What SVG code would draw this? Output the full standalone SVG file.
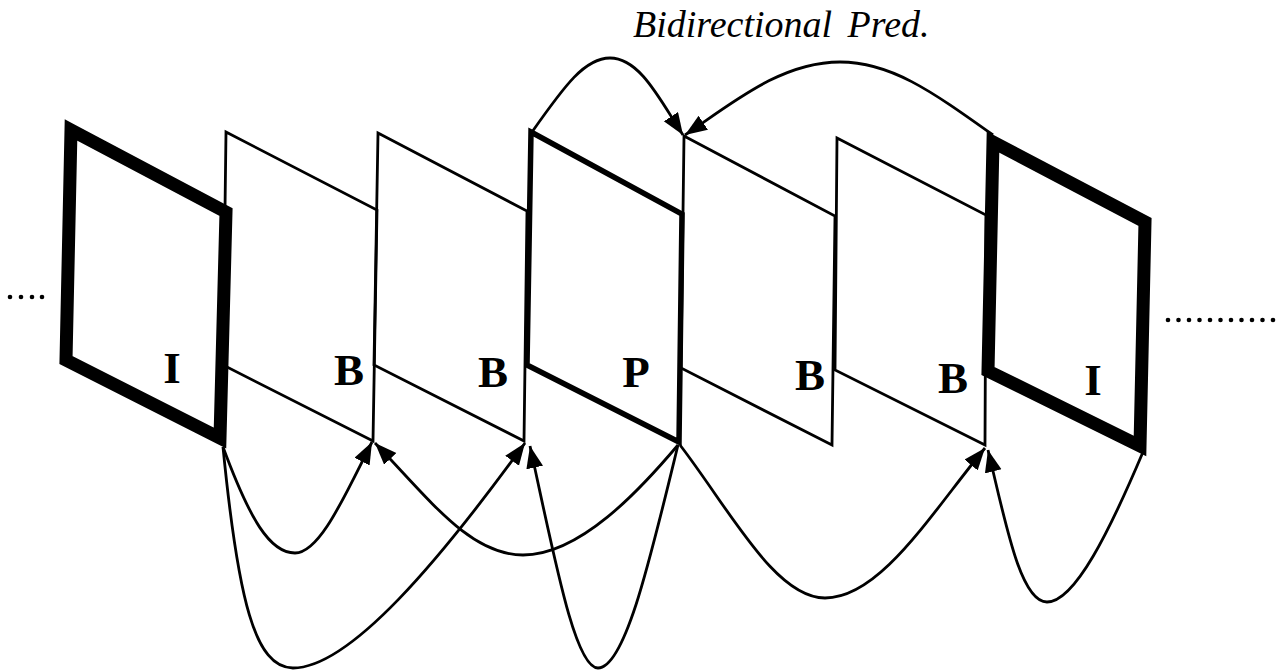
<svg xmlns="http://www.w3.org/2000/svg" width="1283" height="670" viewBox="0 0 1283 670">
<style>
.thin{fill:none;stroke:#000;stroke-width:2.8;stroke-linejoin:miter}
.mid{fill:none;stroke:#000;stroke-width:5.5;stroke-linejoin:miter}
.thick{fill:none;stroke:#000;stroke-width:13;stroke-linejoin:miter}
.lbl{font-family:"Liberation Serif","Times New Roman",serif;font-weight:bold;font-size:45px;text-anchor:middle;fill:#000}
.title{font-family:"Liberation Serif","Times New Roman",serif;font-style:italic;font-size:38px;fill:#000}
.arc{fill:none;stroke:#000;stroke-width:2.8;marker-end:url(#ah)}
.dot{fill:#000}
</style>
<defs>
<marker id="ah" markerUnits="userSpaceOnUse" markerWidth="24" markerHeight="18" refX="22" refY="8.5" orient="auto">
<path d="M0,0 L22,8.5 L0,17 Z" fill="#000"/>
</marker>
</defs>
<rect width="1283" height="670" fill="#fff"/>
<text class="title" x="633" y="37" word-spacing="6">Bidirectional Pred.</text>
<g id="dots-left">
<circle class="dot" cx="10" cy="297" r="2.3"/><circle class="dot" cx="21" cy="297" r="2.3"/><circle class="dot" cx="32" cy="297" r="2.3"/><circle class="dot" cx="42" cy="297" r="2.3"/>
</g>
<g id="dots-right">
<circle class="dot" cx="1168" cy="320" r="2.3"/><circle class="dot" cx="1178.5" cy="320" r="2.3"/><circle class="dot" cx="1189" cy="320" r="2.3"/><circle class="dot" cx="1199.5" cy="320" r="2.3"/><circle class="dot" cx="1210" cy="320" r="2.3"/><circle class="dot" cx="1220.5" cy="320" r="2.3"/><circle class="dot" cx="1231" cy="320" r="2.3"/><circle class="dot" cx="1241.5" cy="320" r="2.3"/><circle class="dot" cx="1252" cy="320" r="2.3"/><circle class="dot" cx="1262.5" cy="320" r="2.3"/><circle class="dot" cx="1273" cy="320" r="2.3"/>
</g>
<g id="frame-B2"><polygon class="thin" points="226,132 377,210 373,441 223,365"/><text class="lbl" x="349" y="385">B</text></g>
<g id="frame-B3"><polygon class="thin" points="378,133 527,211 524,441 374,365"/><text class="lbl" x="493" y="387">B</text></g>
<g id="frame-B5"><polygon class="thin" points="684,136 835,216 832,445 681,368"/><text class="lbl" x="810" y="390">B</text></g>
<g id="frame-B6"><polygon class="thin" points="837,138 986,215 985,445 835,370"/><text class="lbl" x="953" y="393">B</text></g>
<g id="frame-P4"><polygon class="mid" points="531,132 682,214 679,442 527,365"/><text class="lbl" x="636" y="387">P</text></g>
<g id="frame-I1"><polygon class="thick" points="71,130 226,212 220,438 66,360"/><text class="lbl" x="172" y="383">I</text></g>
<g id="frame-I7"><polygon class="thick" points="993,142 1145,222 1140,446 988,371"/><text class="lbl" x="1093" y="395">I</text></g>
<g id="connectors">
<path class="arc" d="M223,447 C250,520 270,553 295,553 C320,553 345,495 372,442"/>
<path class="arc" d="M223,447 C238,600 255,668 293,668 C350,668 440,560 525,443"/>
<path class="arc" d="M678,445 C640,490 580,555 523,555 C470,555 430,500 375,443"/>
<path class="arc" d="M678,445 C650,560 625,668 598,668 C575,668 555,560 530,446"/>
<path class="arc" d="M680,445 C730,510 775,598 825,598 C880,598 930,515 985,448"/>
<path class="arc" d="M1143,452 C1110,530 1075,602 1047,602 C1020,602 1005,520 988,450"/>
<path class="arc" d="M532,132 C565,85 585,58 610,58 C640,58 660,100 683,135"/>
<path class="arc" d="M993,135 C930,90 890,62 840,62 C780,62 730,105 685,135"/>
</g>
</svg>
